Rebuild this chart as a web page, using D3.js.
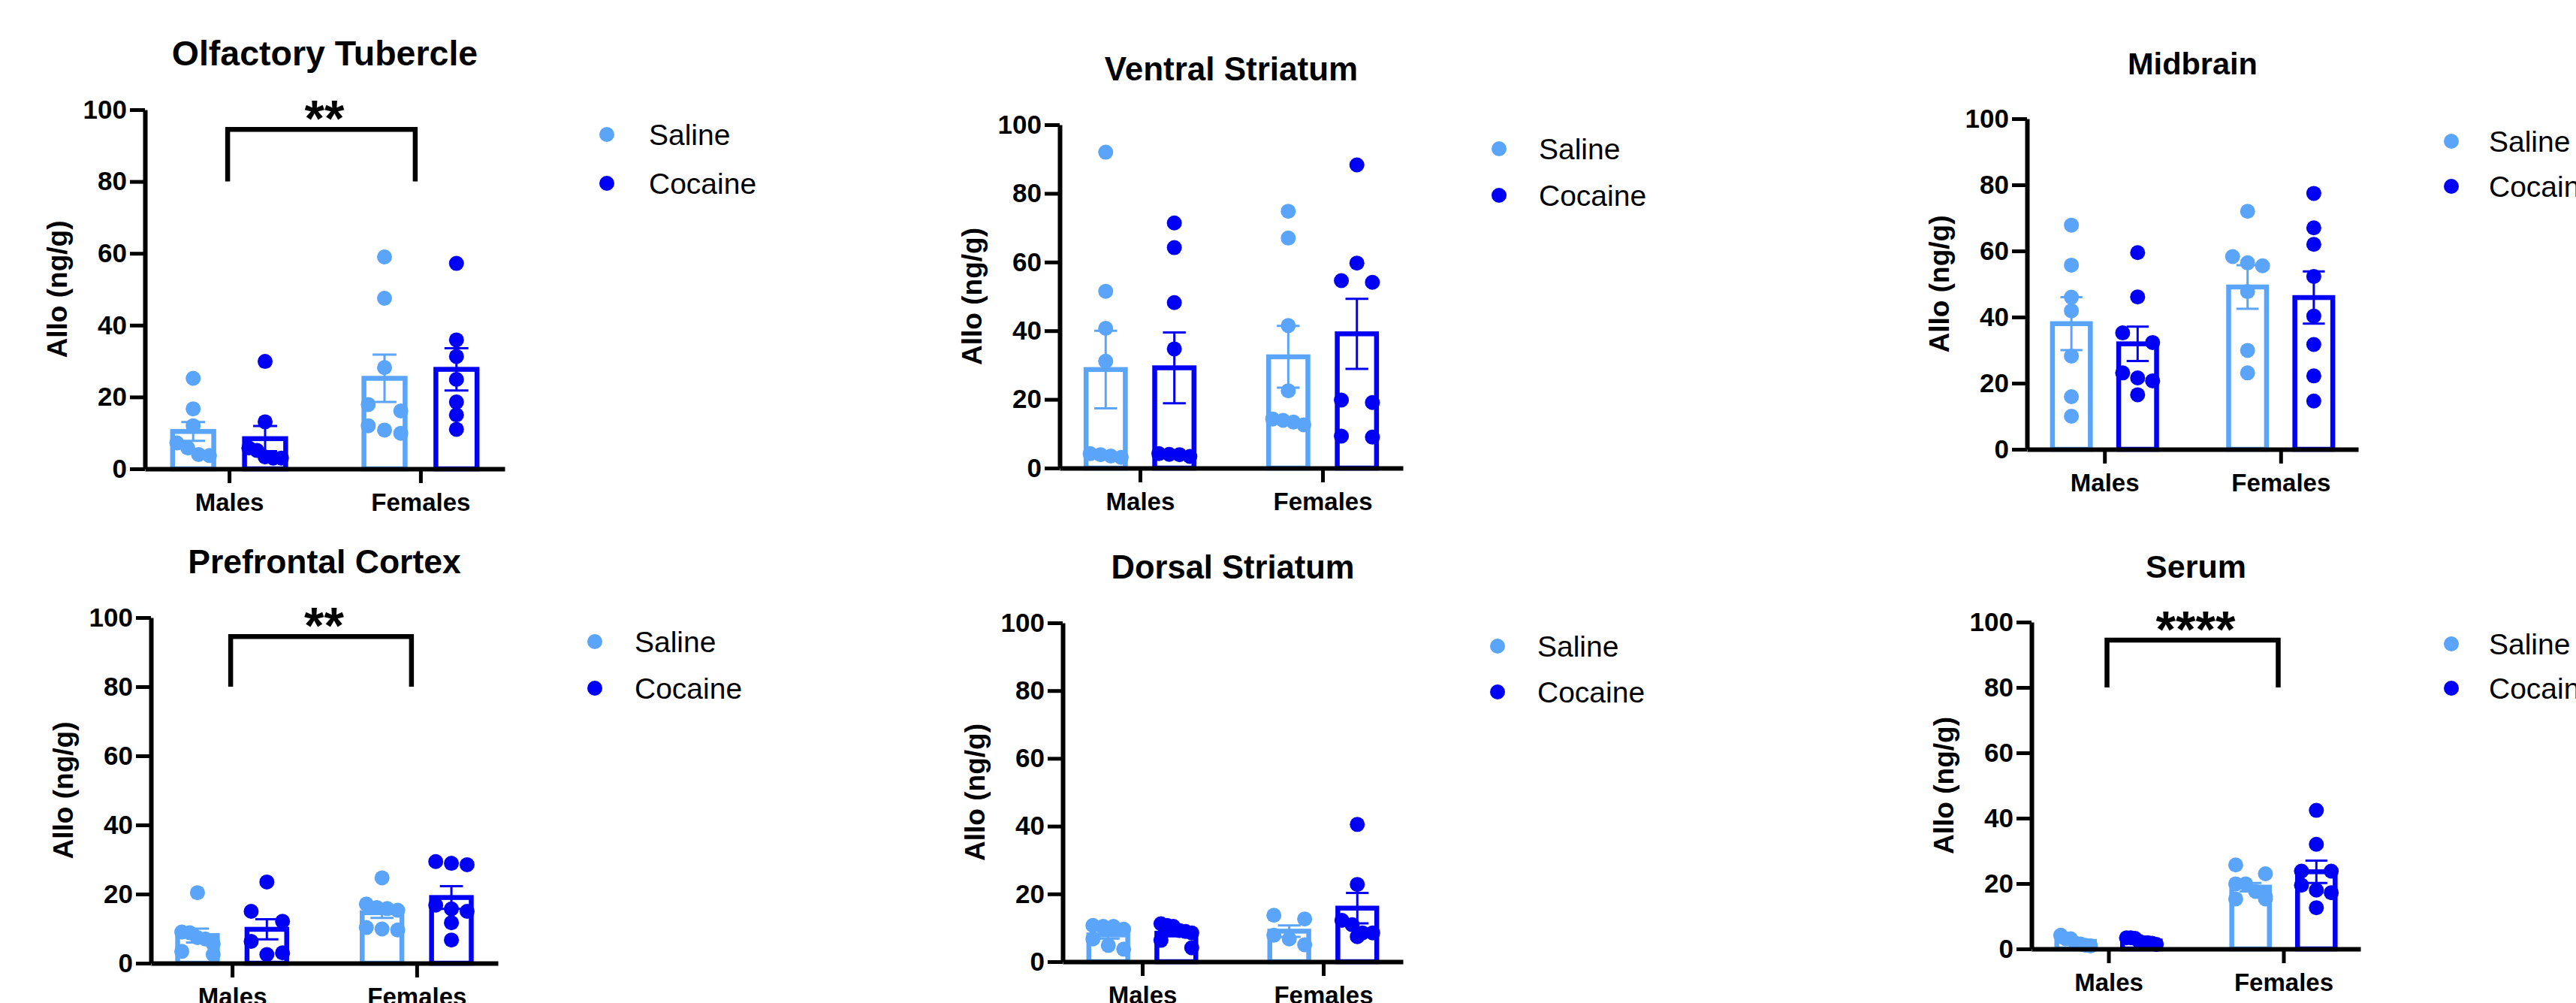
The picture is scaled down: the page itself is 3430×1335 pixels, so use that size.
<!DOCTYPE html>
<html><head><meta charset="utf-8">
<script src="https://cdn.jsdelivr.net/npm/d3@7"></script>
<style>
body{margin:0;background:#fff;}
svg{display:block;}
text{font-family:"Liberation Sans",Arial,Helvetica,sans-serif;}
</style>
</head><body>
<svg id="c" width="3430" height="1335"></svg>
<script>
// ---------------- DATA ----------------
const categories = ["Males", "Females"];
const seriesNames = ["Saline", "Cocaine"];
const yTicks = [0, 20, 40, 60, 80, 100];
const yLabel = "Allo (ng/g)";
const titles = ["Olfactory Tubercle", "Ventral Striatum", "Midbrain", "Prefrontal Cortex", "Dorsal Striatum", "Serum"];
const sigLabels = ["**", null, null, "**", null, "****"];

// individual points: [Saline[Males, Females], Cocaine[Males, Females]]
const olfPoints = [
  [[25.2, 16.7, 12.0, 7.2, 5.8, 4.0, 3.7], [59.0, 47.5, 28.2, 17.9, 16.1, 12.0, 10.8, 9.9]],
  [[29.9, 13.1, 5.8, 5.1, 3.3, 3.0, 3.0], [57.2, 35.9, 31.3, 24.9, 18.6, 15.0, 11.0]]
];
const ventPoints = [
  [[92.0, 51.5, 40.7, 31.1, 4.2, 3.9, 3.5, 3.1], [74.8, 67.0, 41.5, 22.5, 14.3, 13.9, 13.4, 12.6]],
  [[71.4, 64.2, 48.2, 34.7, 4.2, 4.0, 3.9, 3.4], [88.3, 59.7, 54.6, 54.1, 19.8, 19.1, 9.3, 9.0]]
];
const midPoints = [
  [[67.8, 55.7, 46.0, 41.9, 28.2, 15.9, 10.0], [72.0, 58.3, 56.4, 55.5, 47.7, 29.9, 23.1]],
  [[59.5, 46.1, 35.2, 32.3, 23.1, 21.6, 20.7, 16.5], [77.4, 67.0, 62.0, 52.3, 40.3, 31.7, 22.2, 14.6]]
];
const pfcPoints = [
  [[20.4, 9.0, 8.8, 7.4, 7.0, 5.6, 3.4, 2.5], [24.7, 17.1, 16.1, 15.8, 15.3, 10.3, 9.9, 9.6]],
  [[23.5, 15.0, 12.1, 6.3, 3.0, 2.5], [29.4, 28.9, 28.5, 16.8, 15.7, 15.0, 11.7, 6.7]]
];
const dorPoints = [
  [[10.7, 10.4, 10.4, 9.6, 6.7, 4.8, 3.7], [13.7, 12.6, 7.8, 6.7, 5.0]],
  [[11.2, 10.7, 10.4, 9.2, 8.9, 8.5, 6.3, 4.1], [40.5, 22.8, 12.2, 10.9, 8.5, 8.5, 7.4]]
];
const serPoints = [
  [[4.2, 3.1, 3.1, 1.7, 1.5, 1.1, 0.9], [25.7, 23.0, 19.9, 19.9, 17.6, 16.1, 15.3, 15.3]],
  [[3.4, 3.4, 3.2, 2.3, 1.9, 1.9, 1.7, 1.4], [42.4, 32.0, 23.8, 23.8, 19.5, 18.0, 17.2, 12.6]]
];

// bar means and SEM: [Saline[M, F], Cocaine[M, F]]
const olfMeans = [[10.4, 25.2], [8.4, 27.7]];
const olfSems  = [[2.6, 6.6], [3.5, 5.9]];
const ventMeans = [[28.7, 32.4], [29.2, 39.1]];
const ventSems  = [[11.3, 9.0], [10.3, 10.2]];
const midMeans = [[38.0, 49.1], [31.9, 45.9]];
const midSems  = [[8.0, 6.6], [5.2, 7.9]];
const pfcMeans = [[8.0, 14.6], [9.8, 19.0]];
const pfcSems  = [[2.0, 1.5], [2.9, 3.3]];
const dorMeans = [[7.9, 9.0], [8.4, 15.8]];
const dorSems  = [[1.1, 1.7], [0.9, 4.5]];
const serMeans = [[2.3, 18.9], [2.4, 23.6]];
const serSems  = [[0.5, 1.3], [0.3, 3.4]];

const allPoints = [olfPoints, ventPoints, midPoints, pfcPoints, dorPoints, serPoints];
const allMeans = [olfMeans, ventMeans, midMeans, pfcMeans, dorMeans, serMeans];
const allSems = [olfSems, ventSems, midSems, pfcSems, dorSems, serSems];

// ---------------- LAYOUT ----------------
const layout = [
  {ax: 193,  xEnd: 672,  y100: 146, y0: 624,  lx: 808,  tx: 864,  ly: [179, 244], tf: 46.5},
  {ax: 1411, xEnd: 1868, y100: 166, y0: 623,  lx: 1996, tx: 2049, ly: [198, 260], tf: 44},
  {ax: 2699, xEnd: 3140, y100: 158, y0: 598,  lx: 3264, tx: 3314, ly: [188, 248], tf: 41.5},
  {ax: 201,  xEnd: 663,  y100: 822, y0: 1282, lx: 792,  tx: 845,  ly: [854, 916], tf: 44.5},
  {ax: 1415, xEnd: 1868, y100: 829, y0: 1280, lx: 1994, tx: 2047, ly: [860, 921], tf: 43.5},
  {ax: 2705, xEnd: 3143, y100: 828, y0: 1263, lx: 3264, tx: 3314, ly: [857, 916], tf: 43}
];
const colors = {Saline: "#5AA5FA", Cocaine: "#0000F5"};

const svg = d3.select("#c");
svg.append("rect").attr("width", 3430).attr("height", 1335).attr("fill", "#fff");

// place points in rows (GraphPad-like scatter)
function swarm(vals, y, maxHalf, rowH) {
  const sorted = vals.map(v => ({v: v, py: y(v)})).sort((a, b) => a.py - b.py);
  const out = [];
  let row = [];
  const flush = () => {
    const n = row.length;
    const s = n > 1 ? 2 * maxHalf / (n - 1) : 0;
    row.forEach((d, k) => out.push({v: d.v, py: d.py, dx: (k - (n - 1) / 2) * s}));
    row = [];
  };
  sorted.forEach(d => {
    if (row.length && d.py - row[0].py >= rowH) flush();
    row.push(d);
  });
  flush();
  return out;
}

layout.forEach((L, i) => {
  const g = svg.append("g");
  const y = d3.scaleLinear().domain([0, 100]).range([L.y0, L.y100]);
  const x = d3.scalePoint().domain(categories).range([L.ax, L.xEnd]).padding(0.44);
  const step = x.step();
  const inner = d3.scaleBand().domain(seriesNames)
    .range([-0.2955 * step, 0.2955 * step]).paddingInner(0.428);
  const bw = inner.bandwidth();
  const pts = allPoints[i], means = allMeans[i], sems = allSems[i];

  // bars
  seriesNames.forEach((s, si) => {
    categories.forEach((c, ci) => {
      const m = means[si][ci];
      g.append("rect")
        .attr("x", x(c) + inner(s)).attr("width", bw)
        .attr("y", y(m)).attr("height", y(0) - y(m))
        .attr("fill", "none").attr("stroke", colors[s]).attr("stroke-width", 6.5);
    });
  });

  // points
  seriesNames.forEach((s, si) => {
    categories.forEach((c, ci) => {
      const cx = x(c) + inner(s) + bw / 2;
      const placed = swarm(pts[si][ci], y, 0.085 * step, 17);
      g.selectAll(null).data(placed).enter().append("circle")
        .attr("cx", d => cx + d.dx).attr("cy", d => d.py).attr("r", 10)
        .attr("fill", colors[s]);
    });
  });

  // error bars
  const capW = 0.125 * step;
  seriesNames.forEach((s, si) => {
    categories.forEach((c, ci) => {
      const cx = x(c) + inner(s) + bw / 2;
      const m = means[si][ci], e = sems[si][ci];
      const top = y(m + e), bot = y(Math.max(0, m - e));
      g.append("path")
        .attr("d", `M${cx},${top}V${bot}M${cx - capW / 2},${top}H${cx + capW / 2}M${cx - capW / 2},${bot}H${cx + capW / 2}`)
        .attr("stroke", colors[s]).attr("stroke-width", 3).attr("fill", "none");
    });
  });

  // y axis
  const ya = g.append("g").attr("transform", `translate(${L.ax},0)`)
    .call(d3.axisLeft(y).tickValues(yTicks).tickSize(20).tickSizeOuter(0).tickPadding(4));
  ya.select(".domain").attr("stroke", "#000").attr("stroke-width", 6);
  ya.selectAll(".tick line").attr("stroke", "#000").attr("stroke-width", 5);
  ya.selectAll(".tick text").attr("fill", "#000").style("font-size", "35px").style("font-weight", "bold")
    .style("font-family", '"Liberation Sans", Arial, sans-serif');

  // x axis
  const xa = g.append("g").attr("transform", `translate(0,${L.y0})`)
    .call(d3.axisBottom(x).tickSize(19).tickSizeOuter(0).tickPadding(14));
  xa.select(".domain").attr("stroke", "#000").attr("stroke-width", 6);
  xa.selectAll(".tick line").attr("stroke", "#000").attr("stroke-width", 5);
  xa.selectAll(".tick text").attr("fill", "#000").style("font-size", "33px").style("font-weight", "bold")
    .style("font-family", '"Liberation Sans", Arial, sans-serif');

  // y label
  g.append("text")
    .attr("transform", `translate(${L.ax - 104},${(L.y0 + L.y100) / 2}) rotate(-90)`)
    .attr("text-anchor", "middle").style("font-size", "37px").style("font-weight", "bold")
    .text(yLabel);

  // title
  g.append("text").attr("x", (L.ax + L.xEnd) / 2).attr("y", L.y100 - 59)
    .attr("text-anchor", "middle").style("font-size", L.tf + "px").style("font-weight", "bold")
    .text(titles[i]);

  // legend
  seriesNames.forEach((s, si) => {
    g.append("circle").attr("cx", L.lx).attr("cy", L.ly[si]).attr("r", 10).attr("fill", colors[s]);
    g.append("text").attr("x", L.tx).attr("y", L.ly[si]).attr("dy", "0.35em")
      .style("font-size", "39px").text(s);
  });

  // significance
  if (sigLabels[i]) {
    const x1 = x(categories[0]) - 2, x2 = x(categories[1]) - 7;
    const yt = y(94.5), yb = y(80);
    g.append("path").attr("d", `M${x1},${yb}V${yt}H${x2}V${yb}`)
      .attr("stroke", "#000").attr("stroke-width", 6.5).attr("fill", "none");
    g.append("text").attr("x", (x1 + x2) / 2 + 4).attr("y", yt + 9)
      .attr("text-anchor", "middle").style("font-size", "68px").style("font-weight", "bold")
      .text(sigLabels[i]);
  }
});
</script>
</body></html>
